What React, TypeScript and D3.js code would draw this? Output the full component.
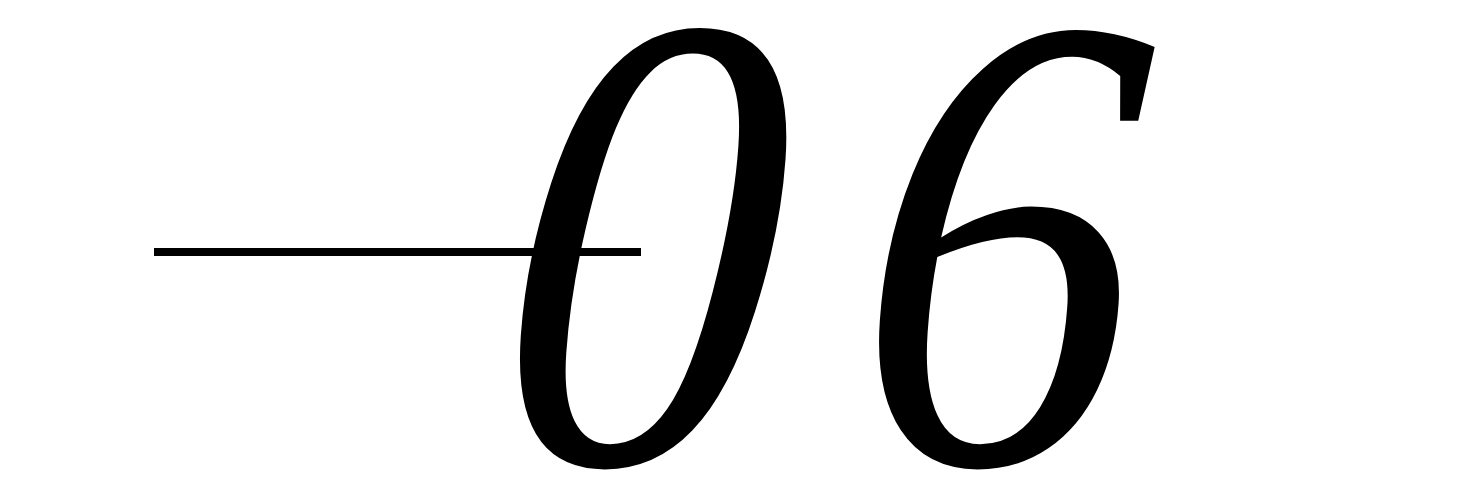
import { useEffect, useRef } from 'react'
import * as d3 from 'd3'

// tick value and its label glyphs
const tickValues = [0.6]
const labelChars = ['0', '6']
const domain = [0, 1]

const W = 1463
const H = 500
const BASE = 463

export default function App() {
  const svgRef = useRef<SVGSVGElement>(null)

  useEffect(() => {
    if (!svgRef.current) return
    const svg = d3.select(svgRef.current)
    svg.selectAll('*').remove()

    const y = d3.scaleLinear().domain(domain).range([630, 0])
    // horizontal placement of each glyph (in the narrowed text space)
    const xg = d3.scalePoint<string>().domain(labelChars).range([570, 985])

    svg.append('rect').attr('width', W).attr('height', H).attr('fill', '#fff')

    tickValues.forEach(v => {
      const yy = y(v)
      svg.append('line')
        .attr('x1', 154).attr('x2', 641)
        .attr('y1', yy).attr('y2', yy)
        .attr('stroke', '#000')
        .attr('stroke-width', 8)
    })

    // extra slant about the baseline, then narrowed
    const label = svg.append('text')
      .attr('transform', `translate(0,${BASE}) skewX(-4) translate(0,${-BASE}) scale(0.86,1)`)
      .attr('y', BASE)
      .attr('font-family', '"Liberation Serif", serif')
      .attr('font-style', 'italic')
      .attr('font-size', 654)
      .attr('fill', '#000')

    labelChars.forEach(c => {
      label.append('tspan').attr('x', xg(c)!).text(c)
    })
  }, [])

  return (
    <svg
      ref={svgRef}
      width={W}
      height={H}
      style={{ position: 'absolute', left: 0, top: 0 }}
    />
  )
}
